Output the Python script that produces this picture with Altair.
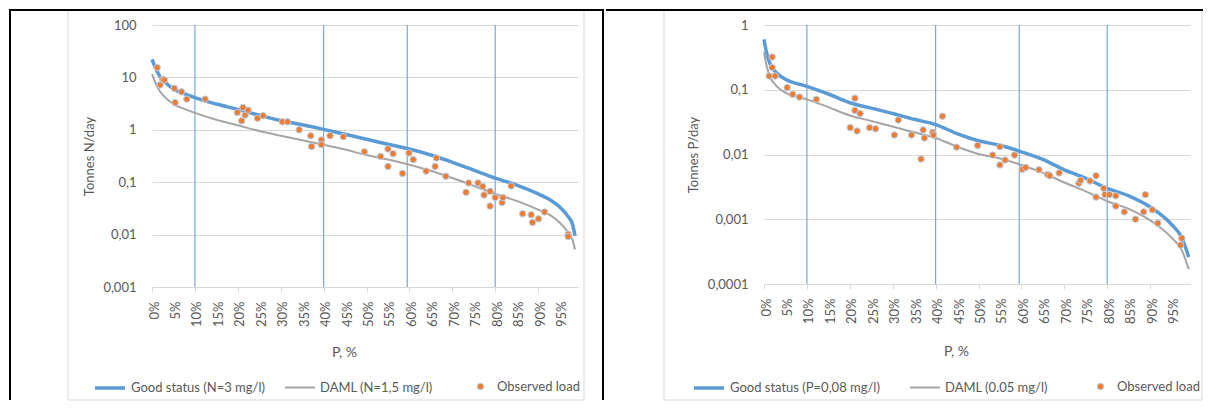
import altair as alt
import pandas as pd

# ---------------- Left panel: nitrogen ----------------
N_CURVE_P = [0, 1, 2, 3, 5, 7.5, 10, 15, 20, 25, 30, 35, 40, 45, 50, 55, 60, 65, 70, 75, 80, 85, 90, 93, 95, 97, 98, 98.6]
N_GOOD = [22, 14, 10, 8.2, 6.0, 4.9, 4.1, 3.1, 2.45, 1.9, 1.5, 1.25, 1.02, 0.82, 0.66, 0.53, 0.43, 0.33, 0.24, 0.17,
          0.12, 0.088, 0.06, 0.045, 0.034, 0.022, 0.016, 0.0095]
N_DAML = [11.5, 7.2, 5.2, 4.2, 3.1, 2.5, 2.1, 1.55, 1.22, 0.95, 0.77, 0.63, 0.52, 0.42, 0.33, 0.27, 0.215, 0.165, 0.12,
          0.085, 0.06, 0.044, 0.03, 0.023, 0.017, 0.011, 0.008, 0.0052]
N_OBS_P = [1.2, 1.9, 2.5, 2.9, 5.2, 5.4, 6.9, 8.1, 12.4, 19.9, 20.9, 21.2, 21.7, 22.4, 24.6, 25.9, 30.4, 31.6, 34.3,
           37.0, 37.2, 39.5, 39.5, 41.5, 44.6, 49.5, 53.3, 55.0, 55.0, 56.2, 58.4, 59.9, 60.9, 63.9, 66.0, 66.3, 68.5,
           73.2, 73.8, 76.0, 77.1, 77.4, 78.8, 78.8, 80.0, 81.6, 81.8, 83.7, 86.4, 88.4, 88.7, 90.1, 91.5, 97.0, 97.0]
N_OBS_V = [15.4, 7.2, 9.2, 8.9, 6.2, 3.3, 5.3, 3.85, 3.85, 2.14, 1.48, 2.66, 1.91, 2.37, 1.66, 1.86, 1.42, 1.42, 1.0,
           0.77, 0.48, 0.64, 0.52, 0.77, 0.74, 0.38, 0.31, 0.43, 0.2, 0.35, 0.147, 0.36, 0.27, 0.163, 0.2, 0.29, 0.13,
           0.064, 0.097, 0.097, 0.083, 0.057, 0.067, 0.035, 0.051, 0.041, 0.051, 0.085, 0.025, 0.024, 0.017, 0.02,
           0.027, 0.0102, 0.0092]
N_LABELS = ["Good status (N=3 mg/l)", "DAML (N=1,5 mg/l)", "Observed load"]
N_Y_TICKS = [0.001, 0.01, 0.1, 1, 10, 100]

# ---------------- Right panel: phosphorus ----------------
P_CURVE_P = [0, 0.5, 1.3, 3, 5, 10, 15, 20, 25, 30, 35, 40, 45, 50, 55, 60, 65, 70, 75, 80, 85, 89, 92, 95, 97.4, 99]
P_GOOD = [0.6, 0.4, 0.26, 0.18, 0.145, 0.113, 0.086, 0.063, 0.052, 0.043, 0.035, 0.029, 0.021, 0.0163, 0.0139, 0.011,
          0.0084, 0.0058, 0.0043, 0.003, 0.0023, 0.0017, 0.00125, 0.00083, 0.00052, 0.00026]
P_DAML = [0.38, 0.25, 0.165, 0.113, 0.09, 0.071, 0.054, 0.04, 0.033, 0.027, 0.022, 0.018, 0.0132, 0.0102, 0.0087,
          0.0069, 0.0052, 0.0037, 0.0027, 0.0019, 0.00145, 0.00106, 0.00078, 0.00052, 0.00033, 0.00017]
P_OBS_P = [1.2, 1.9, 1.9, 2.6, 5.4, 6.7, 8.3, 12.2, 20.1, 21.2, 21.2, 21.7, 22.4, 24.6, 26.0, 30.4, 31.3, 34.4, 36.6,
           37.1, 37.4, 39.3, 39.5, 41.6, 44.9, 49.8, 53.3, 55.0, 55.0, 56.2, 58.4, 60.2, 61.0, 64.1, 66.1, 66.6, 68.8,
           73.4, 73.8, 76.0, 77.4, 77.4, 79.2, 79.5, 80.5, 82.0, 82.0, 84.0, 86.6, 88.5, 88.9, 90.5, 91.8, 97.1, 97.4]
P_OBS_V = [0.163, 0.32, 0.22, 0.163, 0.108, 0.085, 0.077, 0.071, 0.026, 0.074, 0.048, 0.023, 0.043, 0.026, 0.025, 0.02,
           0.034, 0.02, 0.0085, 0.024, 0.018, 0.022, 0.02, 0.039, 0.013, 0.0138, 0.0098, 0.0132, 0.0069, 0.0082, 0.0098,
           0.0059, 0.0063, 0.0058, 0.0049, 0.0047, 0.0052, 0.0036, 0.004, 0.0039, 0.0047, 0.0022, 0.003, 0.0024,
           0.0024, 0.0023, 0.0016, 0.0013, 0.001, 0.0013, 0.0024, 0.0014, 0.00087, 0.0004, 0.00051]
P_LABELS = ["Good status (P=0,08 mg/l)", "DAML (0.05 mg/l)", "Observed load"]
P_Y_TICKS = [0.0001, 0.001, 0.01, 0.1, 1]

# shared
X_TICKS = list(range(0, 100, 5))
MARK_P = [10, 40, 59.5, 80]

BLUE = "#5b9bd5"
GRAY = "#a5a5a5"
ORANGE = "#ed7d31"
GRID = "#d9d9d9"
TXT = "#595959"
FONT = "Lato"
W = 426
BOTTOM = 375


def panel(curve_p, good, daml, obs_p, obs_v, labels, y_title, y_ticks, height, geo):
    one = pd.DataFrame({"k": [0]})
    xenc = alt.X(
        "p:Q",
        scale=alt.Scale(domain=[0, 99.3], nice=False, zero=False),
        axis=alt.Axis(
            values=X_TICKS, labelExpr="datum.value + '%'", labelAngle=270, grid=False,
            domainColor=GRID, tickColor=GRID, tickSize=5,
            tickOpacity={"condition": {"test": "datum.value % 10 === 0", "value": 1}, "value": 0},
            labelPadding=9, labelOffset=2, labelFontSize=13,
            title="P, %", titleX=192, titleY=geo["xty"], titleBaseline="middle", titleAlign="center",
            titleFontSize=14,
        ),
    )
    yenc = alt.Y(
        "v:Q",
        scale=alt.Scale(type="log", domain=[y_ticks[0], y_ticks[-1]], nice=False),
        axis=alt.Axis(
            values=y_ticks, labelExpr="replace(format(datum.value, '~g'), '.', ',')",
            grid=True, gridColor=GRID, domain=False, ticks=False, labelPadding=16, labelFontSize=13,
            title=y_title, titleX=geo["ytx"], titleY=height / 2, titleAngle=270, titleBaseline="middle",
            titleAlign="center", titleFontSize=13,
        ),
    )
    curves = pd.DataFrame({
        "p": list(curve_p) + list(curve_p),
        "v": list(good) + list(daml),
        "series": [labels[0]] * len(good) + [labels[1]] * len(daml),
    })
    obs = pd.DataFrame({"p": obs_p, "v": obs_v, "series": [labels[2]] * len(obs_p)})
    marks = pd.DataFrame({"p": MARK_P})

    line_legend = alt.Legend(
        orient="none", legendX=geo["lx"], legendY=geo["ly"], direction="horizontal", title=None,
        symbolType="stroke", symbolSize=900, labelOffset=4, columnPadding=geo["cp"], labelLimit=400,
    )
    dec = []
    # chart container border
    dec.append(alt.Chart(one).mark_rect(fillOpacity=0, stroke=GRID, strokeWidth=1).encode(
        x=alt.value(geo["bx1"]), x2=alt.value(geo["bx2"]), y=alt.value(-15), y2=alt.value(BOTTOM)))
    # table lines
    dec.append(alt.Chart(one).mark_rule(color="black", strokeWidth=2, strokeCap="square").encode(
        x=alt.value(geo["tx1"]), x2=alt.value(geo["tx2"]), y=alt.value(-15)))
    for vx in geo["vlines"]:
        dec.append(alt.Chart(one).mark_rule(color="black", strokeWidth=2).encode(
            x=alt.value(vx), y=alt.value(-15), y2=alt.value(BOTTOM)))

    vlines = alt.Chart(marks).mark_rule(color=BLUE, strokeWidth=1.2, opacity=0.85).encode(x=xenc)
    lines = alt.Chart(curves).mark_line(interpolate="monotone").encode(
        x=xenc, y=yenc,
        color=alt.Color("series:N", scale=alt.Scale(domain=labels[:2], range=[BLUE, GRAY]), legend=line_legend),
        strokeWidth=alt.StrokeWidth("series:N", scale=alt.Scale(domain=labels[:2], range=[3.5, 2]),
                                    legend=line_legend),
        detail="series:N",
    )
    pts = alt.Chart(obs).mark_circle(size=42, opacity=1, stroke="#bcd0ea", strokeWidth=1).encode(
        x=xenc, y=yenc,
        fill=alt.Fill("series:N", scale=alt.Scale(domain=[labels[2]], range=[ORANGE]),
                      legend=alt.Legend(orient="none", legendX=geo["px"], legendY=geo["py"], title=None,
                                        symbolType="circle", symbolSize=42, symbolOpacity=1,
                                        symbolStrokeColor="#bcd0ea", symbolStrokeWidth=1, labelOffset=10,
                                        labelLimit=400)),
    )
    return alt.layer(*dec, vlines, lines, pts).properties(width=W, height=height)


left = panel(N_CURVE_P, N_GOOD, N_DAML, N_OBS_P, N_OBS_V, N_LABELS, "Tonnes N/day", N_Y_TICKS, 262,
             dict(xty=65, ytx=-63, lx=-59, ly=346, cp=16, px=322, py=355, bx1=-84, bx2=432,
                  tx1=-142, tx2=451, vlines=[-142, 451]))
right = panel(P_CURVE_P, P_GOOD, P_DAML, P_OBS_P, P_OBS_V, P_LABELS, "Tonnes P/day", P_Y_TICKS, 259,
              dict(xty=67, ytx=-71, lx=-72, ly=346, cp=26, px=330, py=355, bx1=-100, bx2=438,
                   tx1=-157, tx2=438, vlines=[]))

chart = alt.hconcat(left, right, spacing=0).resolve_scale(
    x="independent", y="independent", color="independent", strokeWidth="independent", fill="independent"
).properties(padding=0).configure_view(stroke=None).configure_axis(
    labelFont=FONT, titleFont=FONT, labelColor=TXT, titleColor=TXT, titleFontWeight="normal"
).configure_legend(
    labelFont=FONT, labelFontSize=13, labelColor=TXT, padding=0
)

chart.save("out.html", embed_options={"renderer": "svg", "actions": False})
